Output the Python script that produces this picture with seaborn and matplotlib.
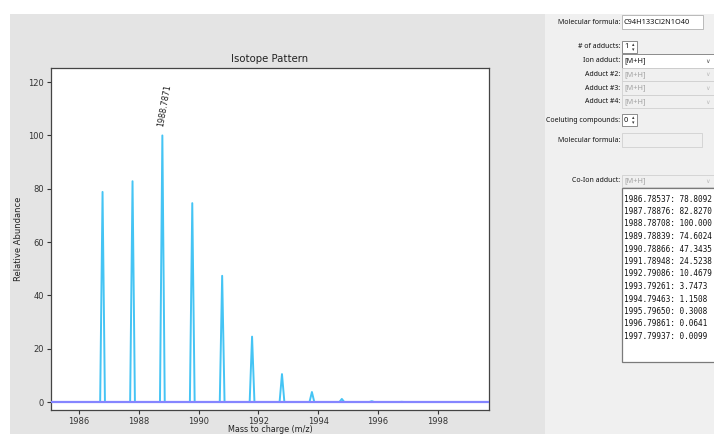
import numpy as np
import pandas as pd
import matplotlib
matplotlib.use("Agg")
import matplotlib.pyplot as plt
import seaborn as sns
from matplotlib.patches import Rectangle

# isotope peaks
masses = [1986.78537, 1987.78876, 1988.78708, 1989.78839, 1990.78866, 1991.78948,
          1992.79086, 1993.79261, 1994.79463, 1995.79650, 1996.79861, 1997.79937]
abundances = [78.8092, 82.8270, 100.000, 74.6024, 47.3435, 24.5238,
              10.4679, 3.7473, 1.1508, 0.3008, 0.0641, 0.0099]

formula = "C94H133Cl2N1O40"
adduct_labels = ["Ion adduct:", "Adduct #2:", "Adduct #3:", "Adduct #4:"]
adduct_values = ["[M+H]", "[M+H]", "[M+H]", "[M+H]"]

sns.set_theme(style="ticks")
plt.rcParams["font.family"] = ["DejaVu Sans"]

W, H = 714, 434
fig = plt.figure(figsize=(W / 100, H / 100), dpi=100)
fig.patch.set_facecolor("white")


def fx(px):
    return px / W


def fy(py):
    return 1 - py / H


def box(x0, y0, x1, y1, face, edge, lw=0.6):
    fig.add_artist(Rectangle((fx(x0), fy(y1)), fx(x1) - fx(x0), fy(y0) - fy(y1),
                             transform=fig.transFigure, facecolor=face,
                             edgecolor=edge, linewidth=lw, zorder=0))


# background widgets
box(10, 14, 545, 434, "#e4e4e4", "none")
box(545, 14, 714, 434, "#f0f0f0", "none")

# the plot
ax = fig.add_axes([fx(51), fy(410), fx(489) - fx(51), fy(68) - fy(410)])
ax.set_facecolor("white")

# stick profile: narrow triangle around each mass
half = 0.08
px_, py_ = [], []
for m, a in zip(masses, abundances):
    px_ += [m - half, m, m + half]
    py_ += [0, a, 0]
profile = pd.DataFrame({"mz": px_, "ab": py_})
sns.lineplot(data=profile, x="mz", y="ab", sort=False, estimator=None,
             color="#45c4f4", linewidth=1.4, ax=ax)
ax.axhline(0, color="#8585ff", linewidth=1.6, zorder=3)

top = int(np.argmax(abundances))
ax.text(masses[top] + 0.08, abundances[top] + 3, f"{masses[top]:.4f}",
        rotation=80, fontsize=5.8, color="#222222", ha="center", va="bottom")

ax.set_xlim(1985.06, 1999.72)
ax.set_ylim(-3, 125.3)
ax.set_xticks([1986, 1988, 1990, 1992, 1994, 1996, 1998])
ax.set_yticks([0, 20, 40, 60, 80, 100, 120])
ax.tick_params(labelsize=6, colors="#333333", length=3, width=0.8, pad=2)
for s in ax.spines.values():
    s.set_visible(True)
    s.set_color("#444444")
    s.set_linewidth(0.9)
ax.set_title("Isotope Pattern", fontsize=7.3, color="#222222", pad=4)
ax.set_xlabel("Mass to charge (m/z)", fontsize=5.8, color="#222222", labelpad=-1)
ax.set_ylabel("Relative Abundance", fontsize=6, color="#222222", labelpad=4)

# side panel
ui = ["Noto Sans", "DejaVu Sans"]
lab_kw = dict(fontsize=5, ha="right", va="center", family=ui, color="#111111")
val_kw = dict(fontsize=5.3, ha="left", va="center", family=ui)


def label(py, txt):
    fig.text(fx(620), fy(py), txt, **lab_kw)


def combo(py, txt, enabled):
    face = "white" if enabled else "#f0f0f0"
    edge = "#7a7a7a" if enabled else "#d0d0d0"
    box(622, py - 6.5, 713.5, py + 6.5, face, edge)
    fig.text(fx(624), fy(py), txt, color="#111111" if enabled else "#a0a0a0", **val_kw)
    fig.text(fx(707), fy(py + 0.5), "∨", fontsize=4.5, ha="center", va="center",
             color="#555555" if enabled else "#bbbbbb")


def spin(py, txt):
    box(622, py - 6, 637, py + 6, "white", "#7a7a7a")
    fig.text(fx(624), fy(py), txt, color="#111111", **val_kw)
    fig.text(fx(633), fy(py - 2.5), "▴", fontsize=3.5, ha="center", va="center", color="#333333")
    fig.text(fx(633), fy(py + 2.5), "▾", fontsize=3.5, ha="center", va="center", color="#333333")


label(22, "Molecular formula:")
box(622, 15, 703, 29, "white", "#b0b0b0")
fig.text(fx(624), fy(22), formula, color="#111111", **val_kw)

label(47, "# of adducts:")
spin(47, "1")

for i, (lt, vt) in enumerate(zip(adduct_labels, adduct_values)):
    yy = 61 + i * 13.5
    label(yy, lt)
    combo(yy, vt, i == 0)

label(120, "Coeluting compounds:")
spin(120, "0")

label(140, "Molecular formula:")
box(622, 133, 702, 147, "#f0f0f0", "#d0d0d0")

label(181, "Co-Ion adduct:")
combo(181, "[M+H]", False)

# list box with peak table
box(622, 188, 716, 362, "white", "#7a7a7a", lw=0.9)
for i, (m, a) in enumerate(zip(masses, abundances)):
    s = f"{m:.5f}: {a:.4f}" if a < 100 else f"{m:.5f}: {a:.3f}"
    fig.text(fx(624.5), fy(199 + i * 12.5), s, fontsize=5.6, ha="left", va="center",
             family="DejaVu Sans Mono", color="#111111")

fig.savefig("out.png", dpi=100, facecolor=fig.get_facecolor())
